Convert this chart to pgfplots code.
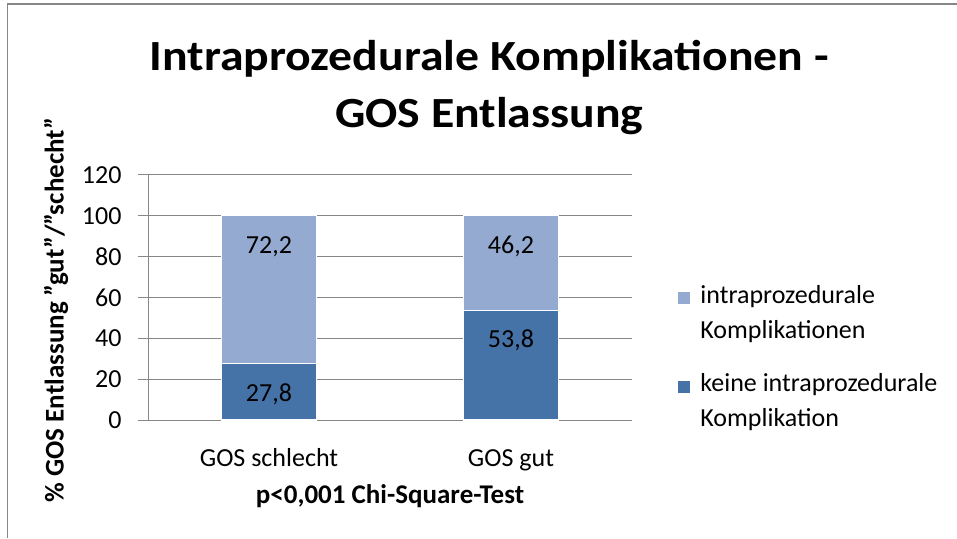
\documentclass[border=0pt]{standalone}
\usepackage{fontspec}
\setmainfont{Carlito}
\newfontfamily\titlefont[FakeStretch=1.11]{Carlito}
\usepackage{pgfplots}
\pgfplotsset{compat=1.18}
\definecolor{darkbar}{HTML}{4572A7}
\definecolor{lightbar}{HTML}{95AAD1}
\definecolor{gridgray}{HTML}{878787}
\begin{document}
\begin{tikzpicture}[x=1pt,y=1pt]
\path[use as bounding box] (0,0) rectangle (957,538);
\draw[gridgray, line width=1.2pt] (7.5,0) -- (7.5,534) -- (957,534);
\begin{axis}[
  at={(148pt,118pt)}, anchor=south west,
  scale only axis, width=484pt, height=245pt,
  ybar stacked, bar width=95pt,
  xmin=-0.5, xmax=1.5, ymin=0, ymax=120,
  xtick={0,1}, xticklabels={GOS schlecht, GOS gut},
  ytick={0,20,...,120},
  axis x line*=bottom, axis y line*=left,
  axis line style={gridgray, line width=1pt, -},
  ymajorgrids, grid style={gridgray, line width=1pt},
  major tick length=10pt, tick align=outside,
  ytick style={gridgray, line width=1pt},
  xtick style={draw=none},
  /pgf/number format/assume math mode=true,
  ticklabel style={font=\fontsize{26}{30}\selectfont},
  yticklabel style={xshift=-13pt},
  xticklabel style={anchor=base, yshift=-36pt},
  xlabel={p<0,001 Chi-Square-Test},
  xlabel style={font=\bfseries\fontsize{27}{32}\selectfont, at={(axis description cs:0.5,-0.31)}, anchor=center},
  ylabel={\% GOS Entlassung "gut"/"schecht"},
  ylabel style={font=\bfseries\fontsize{27}{32}\selectfont, at={(axis description cs:-0.19,0.449)}, anchor=center},
  title={Intraprozedurale Komplikationen -\\GOS Entlassung},
  title style={font=\titlefont\bfseries\fontsize{43}{57}\selectfont, align=center, at={(axis description cs:0.705,1.528)}, anchor=north, inner sep=0pt},
  legend style={draw=none, fill=none, at={(axis description cs:1.093,0.56)}, anchor=north west,
    font=\fontsize{26}{35}\selectfont, row sep=30pt, inner sep=0pt,
    cells={align=left}},
  legend cell align=left,
  reverse legend,
  legend image code/.code={\path (0pt,0pt) -- (20pt,0pt);\fill[#1, draw=none] (0pt,8pt) rectangle (12pt,20pt);},
]
\addplot[fill=darkbar, draw=white, line width=1.2pt] coordinates {(0,27.8) (1,53.8)};
\addlegendentry{keine intraprozedurale\\Komplikation}
\addplot[fill=lightbar, draw=white, line width=1.2pt] coordinates {(0,72.2) (1,46.2)};
\addlegendentry{intraprozedurale\\Komplikationen}
\end{axis}
\begin{axis}[
  at={(148pt,118pt)}, anchor=south west,
  scale only axis, width=484pt, height=245pt,
  xmin=-0.5, xmax=1.5, ymin=0, ymax=120,
  hide axis,
  point meta=explicit,
  nodes near coords={\pgfmathprintnumber[fixed, fixed zerofill, precision=1, use comma, assume math mode=true]{\pgfplotspointmeta}},
  nodes near coords style={anchor=center, font=\fontsize{26}{30}\selectfont, text=black},
]
\addplot[draw=none, mark=none] coordinates {(0,12.8) [27.8] (1,39.1) [53.8] (0,84.8) [72.2] (1,84.8) [46.2]};
\end{axis}
\end{tikzpicture}
\end{document}
